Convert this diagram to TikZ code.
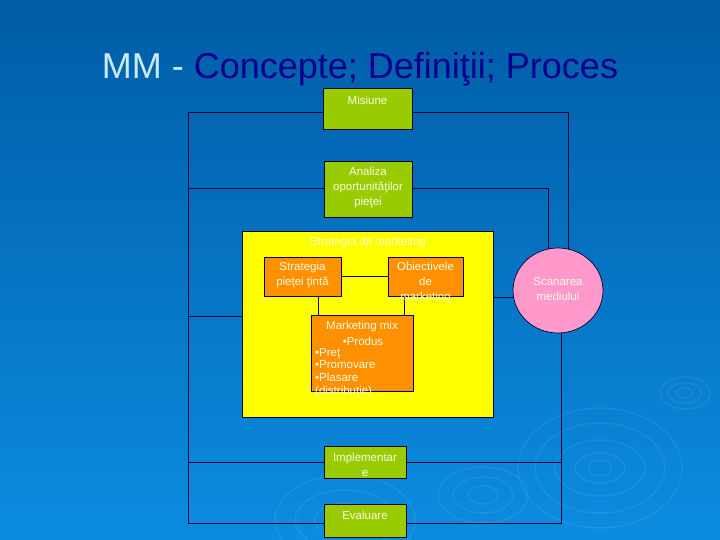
\documentclass[tikz,border=0pt]{standalone}
\usepackage{fontspec}
\setmainfont{Liberation Sans}
\usetikzlibrary{shapes.geometric,calc}
\definecolor{bgtop}{RGB}{0,92,166}
\definecolor{bgbot}{RGB}{12,140,224}
\definecolor{gfill}{RGB}{153,204,0}
\definecolor{ofill}{RGB}{255,145,0}
\definecolor{yfill}{RGB}{255,255,0}
\definecolor{pfill}{RGB}{255,153,204}
\definecolor{ln}{RGB}{0,0,51}
\definecolor{tx}{RGB}{250,250,225}
\definecolor{ytx}{RGB}{255,255,200}
\definecolor{ttl}{RGB}{200,236,255}
\definecolor{ttd}{RGB}{0,0,140}
\pgfdeclarelayer{back}\pgfdeclarelayer{bg}\pgfdeclarelayer{yl}\pgfdeclarelayer{mid}
\pgfsetlayers{back,bg,yl,mid,main}
\begin{document}
\begin{tikzpicture}[x=1pt,y=-1pt,
  box/.style={draw=ln, line width=0.9pt, inner sep=0pt, rectangle},
  gbox/.style={box, fill=gfill},
  obox/.style={box, fill=ofill},
  txt/.style={text=tx, font=\fontsize{11.5}{15}\selectfont, align=center, inner sep=0pt},
  mtxt/.style={text=tx, font=\fontsize{11.5}{12.8}\selectfont, inner sep=0pt},
  conn/.style={draw=ln, line width=1pt},
  ripple/.style={draw=white, opacity=0.07, line width=1.5pt}]
\useasboundingbox (0,0) rectangle (720,540);
\begin{pgfonlayer}{back}
  \shade[top color=bgtop, bottom color=bgbot] (0,0) rectangle (720,540);
  \foreach \r/\s in {8/5,17/10,25/16}{\draw[ripple] (685,393) ellipse [x radius=\r, y radius=\s];}
  \foreach \r/\s in {12/8,25/15,45/28,65/45,82/60}{\draw[ripple] (600,468) ellipse [x radius=\r, y radius=\s];}
  \foreach \r/\s in {15/8,30/17,50/30,70/45}{\draw[ripple] (345,520) ellipse [x radius=\r, y radius=\s];}
  \foreach \r/\s in {15/9,30/18,45/28}{\draw[ripple] (483,495) ellipse [x radius=\r, y radius=\s];}
\end{pgfonlayer}

% title
\node[inner sep=0pt, font=\fontsize{36}{40}\selectfont] (title) at (360,69)
  {\textcolor{ttl}{MM -} \textcolor{ttd}{Concepte; Definiţii; Proces}};

% boxes
\node[gbox, minimum width=89pt, minimum height=41pt] (mis) at (367.5,108.5) {};
\node[txt] (misT) at (367.5,100) {Misiune};
\node[gbox, minimum width=88pt, minimum height=56pt] (ana) at (368,189) {};
\node[txt] (anaT) at (368,188) {Analiza\\oportunităţilor\\pieţei};

\begin{pgfonlayer}{yl}
  \node[box, fill=yfill, minimum width=251pt, minimum height=186pt] (yel) at (367.5,324) {};
\end{pgfonlayer}
\node[txt, text=ytx] (yelT) at (368,243) {Strategia de marketing};

\node[obox, minimum width=77pt, minimum height=39pt] (str) at (302.5,276.5) {};
\node[txt] (strT) at (302.5,275.5) {Strategia\\pieţei ţintă};
\node[obox, minimum width=75pt, minimum height=39pt] (obj) at (425.5,276.5) {};
\node[txt] (objT) at (425.5,283) {Obiectivele\\de\\marketing};

\node[obox, minimum width=102pt, minimum height=76pt] (mm) at (362,353) {};
\node[mtxt] (mmT1) at (362,327) {Marketing mix};
\node[mtxt] (mmT2) at (363,341) {•Produs};
\node[mtxt, anchor=north west, align=left] (mmT3) at (315,348) {•Preţ\\•Promovare\\•Plasare\\(distribuţie)};

\node[gbox, minimum width=82pt, minimum height=32pt] (imp) at (365,462) {};
\node[txt] (impT) at (365,464.5) {Implementar\\e};
\node[gbox, minimum width=82pt, minimum height=33pt] (eva) at (365,520.5) {};
\node[txt] (evaT) at (365,515) {Evaluare};

\node[ellipse, draw=ln, line width=0.7pt, fill=pfill, minimum width=90pt, minimum height=85pt, inner sep=0pt] (scan) at (558,290.5) {};
\node[txt] (scanT) at (558,289.5) {Scanarea\\mediului};

% connector corners
\coordinate (tl) at (188,113);
\coordinate (tr) at (568,113);
\coordinate (bl) at (188,523);
\coordinate (br) at (561,523);
\coordinate (ar) at (548,189);
\coordinate (ly) at (188,316);
\coordinate (ry) at (493,297);
\coordinate (s1) at (318,296);
\coordinate (o1) at (404,296);

\begin{pgfonlayer}{bg}
  \draw[conn] (tr |- scan.center) -- (tr) -- (tl) -- (bl) -- (br) -- (br |- scan.center);
  \draw[conn] (tl |- ana.center) -- (ar) -- (ar |- scan.center);
  \draw[conn] (ly) -- (yel.center |- ly);
  \draw[conn] (yel.center |- ry) -- (scan.center |- ry);
  \draw[conn] (bl |- imp.center) -- (br |- imp.center);
\end{pgfonlayer}
\begin{pgfonlayer}{mid}
  \draw[conn] (str.center) -- (obj.center);
  \draw[conn] (s1 |- str.center) -- (s1 |- mm.center);
  \draw[conn] (o1 |- obj.center) -- (o1 |- mm.center);
\end{pgfonlayer}
\end{tikzpicture}
\end{document}
